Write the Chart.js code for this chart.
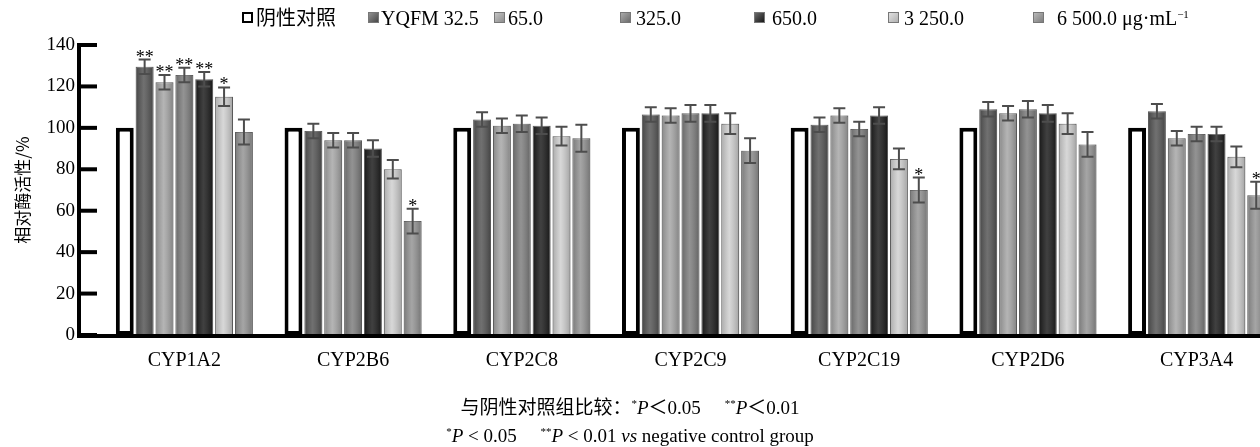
<!DOCTYPE html>
<html>
<head>
<meta charset="UTF-8">
<title>CYP enzyme activity</title>
<script src="https://cdn.jsdelivr.net/npm/chart.js"></script>
<style>
  body { margin: 0; width: 1260px; height: 447px; overflow: hidden; background: #fff; position: relative;
         font-family: "Liberation Serif", "Noto Sans CJK SC", serif; color: #000; }
  #wrap { position: absolute; left: 0; top: 0; }
  .lg { position: absolute; top: 6px; font-size: 20px; line-height: 24px; white-space: nowrap; }
  .sw { position: absolute; top: 12px; width: 11px; height: 11px; box-sizing: border-box; }
  .note { position: absolute; left: 0; width: 1260px; text-align: center; font-size: 19px; line-height: 28px; white-space: nowrap; }
  sup { font-size: 11px; vertical-align: 7px; line-height: 0; }
</style>
</head>
<body>
<div id="wrap"><canvas id="chart" width="1300" height="447"></canvas></div>
<div id="legend"></div>
<div class="note" style="top:394px">与阴性对照组比较：<sup>*</sup><i>P</i>＜0.05&emsp;&nbsp;<sup>**</sup><i>P</i>＜0.01</div>
<div class="note" style="top:422px"><sup>*</sup><i>P</i> &lt; 0.05&emsp;&nbsp;<sup>**</sup><i>P</i> &lt; 0.01 <i>vs</i> negative control group</div>

<script>
    // categories and series
    const categories = ['CYP1A2', 'CYP2B6', 'CYP2C8', 'CYP2C9', 'CYP2C19', 'CYP2D6', 'CYP3A4'];
    const seriesNames = ['阴性对照', 'YQFM 32.5', '65.0', '325.0', '650.0', '3 250.0', '6 500.0 μg·mL−1'];

    // relative enzyme activity (%)
    const control  = [100, 100, 100, 100, 100, 100, 100];
    const dose32_5 = [129.5, 98.5, 104, 106.5, 101.5, 109, 108];
    const dose65   = [122, 94, 101, 106, 106, 107, 95];
    const dose325  = [125.5, 94, 102, 107, 99.5, 109, 97];
    const dose650  = [123.5, 90, 101, 107, 106, 107, 97];
    const dose3250 = [115, 80, 96, 102, 85, 102, 86];
    const dose6500 = [98, 55, 95, 89, 70, 92, 67.5];

    // error (SD)
    const err32_5 = [3.5, 3.5, 3.5, 3.5, 3.5, 3.5, 3.5];
    const err65   = [3.5, 3.5, 3.5, 3.5, 3.5, 3.5, 3.5];
    const err325  = [3.5, 3.5, 4, 4, 3.5, 4, 3.5];
    const err650  = [3.5, 4, 4, 4, 4, 4, 3.5];
    const err3250 = [4.5, 4.5, 4.5, 5, 5, 5, 5];
    const err6500 = [6, 6, 6.5, 6, 6, 6, 6.5];

    // significance marks
    const sig32_5 = ['**', '', '', '', '', '', ''];
    const sig65   = ['**', '', '', '', '', '', ''];
    const sig325  = ['**', '', '', '', '', '', ''];
    const sig650  = ['**', '', '', '', '', '', ''];
    const sig3250 = ['*', '', '', '', '', '', ''];
    const sig6500 = ['', '*', '', '', '*', '', '*'];

    const yTicks = [0, 20, 40, 60, 80, 100, 120, 140];

    const values = [control, dose32_5, dose65, dose325, dose650, dose3250, dose6500];
    const errors = [null, err32_5, err65, err325, err650, err3250, err6500];
    const marks  = [null, sig32_5, sig65, sig325, sig650, sig3250, sig6500];

    const fills   = ['#ffffff', '#555555', '#a6a6a6', '#7e7e7e', '#1c1c1c', '#d0d0d0', '#949494'];
    const legendX = [242, 368, 494, 620, 754, 888, 1033];
    const textX   = [256, 381, 508, 636, 772, 904, 1057];

    // legend
    const legend = document.getElementById('legend');
    seriesNames.forEach((name, i) => {
        const sw = document.createElement('div');
        sw.className = 'sw';
        sw.style.left = legendX[i] + 'px';
        if (i === 0) {
            sw.style.border = '2px solid #000';
            sw.style.background = '#fff';
        } else {
            sw.style.background = `linear-gradient(135deg, rgba(255,255,255,0.35), rgba(0,0,0,0.15)), ${fills[i]}`;
            sw.style.border = '1px solid #777';
        }
        legend.appendChild(sw);
        const t = document.createElement('div');
        t.className = 'lg';
        t.style.left = textX[i] + 'px';
        t.innerHTML = name.replace('mL−1', 'mL<sup>−1</sup>');
        legend.appendChild(t);
    });

    // axes, error bars, stars
    const decorations = {
        id: 'decorations',
        afterDatasetsDraw(chart) {
            const ctx = chart.ctx;
            const y = chart.scales.y;
            ctx.save();
            for (let d = 1; d < values.length; d++) {
                const meta = chart.getDatasetMeta(d);
                meta.data.forEach((bar, i) => {
                    const w = bar.width;
                    const g = ctx.createLinearGradient(bar.x - w / 2, 0, bar.x + w / 2, 0);
                    g.addColorStop(0, 'rgba(0,0,0,0.18)');
                    g.addColorStop(0.45, 'rgba(255,255,255,0.16)');
                    g.addColorStop(1, 'rgba(0,0,0,0.22)');
                    ctx.fillStyle = g;
                    ctx.fillRect(bar.x - w / 2, bar.y, w, bar.base - bar.y);

                    const v = values[d][i], e = errors[d][i];
                    const yt = y.getPixelForValue(v + e);
                    const yb = y.getPixelForValue(v - e);
                    ctx.strokeStyle = '#4d4d4d';
                    ctx.lineWidth = 2;
                    ctx.beginPath();
                    ctx.moveTo(bar.x, yt); ctx.lineTo(bar.x, yb);
                    ctx.moveTo(bar.x - 6, yt); ctx.lineTo(bar.x + 6, yt);
                    ctx.moveTo(bar.x - 6, yb); ctx.lineTo(bar.x + 6, yb);
                    ctx.stroke();

                    if (marks[d][i]) {
                        ctx.fillStyle = '#000';
                        ctx.font = '18px "Liberation Serif"';
                        ctx.textAlign = 'center';
                        ctx.textBaseline = 'alphabetic';
                        ctx.fillText(marks[d][i], bar.x, yt + 3);
                    }
                });
            }
            ctx.restore();
        },
        afterDraw(chart) {
            const ctx = chart.ctx;
            const y = chart.scales.y;
            const left = chart.chartArea.left - 23;
            const y0 = y.getPixelForValue(0);
            ctx.save();
            ctx.fillStyle = '#000';
            ctx.fillRect(left, y.getPixelForValue(140) - 2, 4, y0 - y.getPixelForValue(140) + 5);
            ctx.fillRect(left, y0 - 1, chart.width, 4);
            yTicks.forEach(t => {
                const py = y.getPixelForValue(t);
                ctx.fillRect(left, py - 2, 20, 4);
            });
            ctx.restore();
        }
    };

    new Chart(document.getElementById('chart'), {
        type: 'bar',
        data: {
            labels: categories,
            datasets: values.map((vals, i) => ({
                label: seriesNames[i],
                data: vals,
                backgroundColor: fills[i],
                borderColor: i === 0 ? '#000' : '#6e6e6e',
                borderWidth: i === 0 ? 4 : 1,
                borderSkipped: i === 0 ? false : 'start',
                barPercentage: 0.9,
                categoryPercentage: 0.824
            }))
        },
        options: {
            responsive: false,
            animation: false,
            layout: { padding: { top: 45, right: 19, left: 0, bottom: 0 } },
            plugins: { legend: { display: false }, tooltip: { enabled: false } },
            scales: {
                x: {
                    grid: { display: false, drawTicks: false },
                    border: { display: false },
                    ticks: { color: '#000', padding: 14, font: { family: 'Liberation Serif', size: 20 } },
                    afterFit(scale) { scale.height = 112; }
                },
                y: {
                    min: 0,
                    max: 140,
                    afterBuildTicks(scale) { scale.ticks = yTicks.map(v => ({ value: v })); },
                    grid: { display: false, drawTicks: false },
                    border: { display: false },
                    ticks: { color: '#000', padding: 25, font: { family: 'Liberation Serif', size: 19 } },
                    title: {
                        display: true,
                        text: '相对酶活性/%',
                        color: '#000',
                        font: { family: 'Noto Sans CJK SC', size: 17 },
                        padding: { top: 12, bottom: 0 }
                    },
                    afterFit(scale) { scale.width = 100; }
                }
            }
        },
        plugins: [decorations]
    });
</script>
</body>
</html>
